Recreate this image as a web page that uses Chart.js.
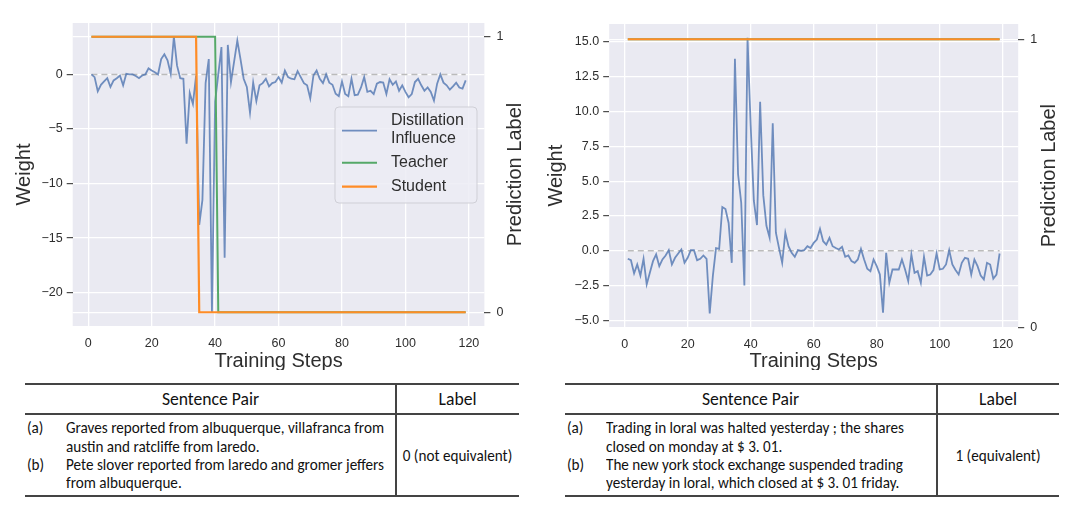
<!DOCTYPE html>
<html><head><meta charset="utf-8">
<script src="https://cdn.jsdelivr.net/npm/chart.js@4.4.0/dist/chart.umd.min.js"></script>
<style>
body{margin:0;background:#fff;width:1080px;height:517px;position:relative;overflow:hidden;font-family:'Liberation Sans',Arial,sans-serif}
canvas{position:absolute;top:0}
.ln{position:absolute;background:#444}
.tt{position:absolute;font-family:Calibri,Carlito,Lato,sans-serif;color:#111;white-space:nowrap;line-height:18px;height:18px;transform-origin:left center}
.ctr{text-align:center;transform-origin:center center}
</style></head><body>
<canvas id="c1" width="540" height="370" style="left:0"></canvas>
<canvas id="c2" width="540" height="370" style="left:540px"></canvas>

<!-- left table -->
<div class="ln" style="left:25px;top:383px;width:494px;height:2px"></div>
<div class="ln" style="left:25px;top:413px;width:494px;height:2px"></div>
<div class="ln" style="left:25px;top:495px;width:494px;height:2px"></div>
<div class="ln" style="left:395px;top:383px;width:2px;height:114px"></div>
<div class="tt ctr hd" style="left:25px;width:371px;top:390px">Sentence Pair</div>
<div class="tt ctr hd" style="left:396px;width:123px;top:390px">Label</div>
<div class="tt" style="left:27px;top:419px">(a)</div>
<div class="tt" style="left:66px;top:419px">Graves reported from albuquerque, villafranca from</div>
<div class="tt" style="left:66px;top:438px">austin and ratcliffe from laredo.</div>
<div class="tt" style="left:27px;top:456px">(b)</div>
<div class="tt" style="left:66px;top:456px">Pete slover reported from laredo and gromer jeffers</div>
<div class="tt" style="left:66px;top:474px">from albuquerque.</div>
<div class="tt ctr" style="left:396px;width:123px;top:447px">0 (not equivalent)</div>

<!-- right table -->
<div class="ln" style="left:565px;top:383px;width:494px;height:2px"></div>
<div class="ln" style="left:565px;top:413px;width:494px;height:2px"></div>
<div class="ln" style="left:565px;top:495px;width:494px;height:2px"></div>
<div class="ln" style="left:936px;top:383px;width:2px;height:114px"></div>
<div class="tt ctr hd" style="left:565px;width:371px;top:390px">Sentence Pair</div>
<div class="tt ctr hd" style="left:937px;width:122px;top:390px">Label</div>
<div class="tt" style="left:567px;top:419px">(a)</div>
<div class="tt" style="left:606px;top:419px">Trading in loral was halted yesterday ; the shares</div>
<div class="tt" style="left:606px;top:438px">closed on monday at $ 3. 01.</div>
<div class="tt" style="left:567px;top:456px">(b)</div>
<div class="tt" style="left:606px;top:456px">The new york stock exchange suspended trading</div>
<div class="tt" style="left:606px;top:474px">yesterday in loral, which closed at $ 3. 01 friday.</div>
<div class="tt ctr" style="left:937px;width:122px;top:447px">1 (equivalent)</div>

<script>
const STEPS = [1,2,3,4,5,6,7,8,9,10,11,12,13,14,15,16,17,18,19,20,21,22,23,24,25,26,27,28,29,30,31,32,33,34,35,36,37,38,39,40,41,42,43,44,45,46,47,48,49,50,51,52,53,54,55,56,57,58,59,60,61,62,63,64,65,66,67,68,69,70,71,72,73,74,75,76,77,78,79,80,81,82,83,84,85,86,87,88,89,90,91,92,93,94,95,96,97,98,99,100,101,102,103,104,105,106,107,108,109,110,111,112,113,114,115,116,117,118,119];

const X_TICKS = [0,20,40,60,80,100,120];
const LEFT_WEIGHT_TICKS = [-20,-15,-10,-5,0];
const RIGHT_WEIGHT_TICKS = [-5,-2.5,0,2.5,5,7.5,10,12.5,15];
const LABEL_TICKS = [0,1];

const LEFT_INFLUENCE = [0,-0.25,-1.55,-0.95,-0.65,-0.35,-1.15,-0.55,-0.35,-0.1,
 -1.0,0.05,0,0,-0.15,-0.35,-0.1,0,0.55,0.35,
 0.2,0,1.4,1.85,1.3,0.05,3.45,0.8,-0.35,-0.4,
 -6.35,-1.7,-2.7,-0.1,-13.8,-11.5,-0.8,1.4,-21.8,-2.5,
 0,2.5,-16.8,2.7,-0.7,1.2,3.1,1.4,-0.4,-1.15,
 -3.5,-0.75,-2.45,-1.0,-0.8,-0.4,-1.1,-0.8,-0.7,-0.25,
 -0.75,0.35,-0.25,-0.4,-0.45,0.3,-0.25,-0.8,-1.0,-2.2,
 -0.1,0.35,-0.4,-0.8,0,-0.76,-0.95,-1.77,-2.0,-0.64,
 -1.8,-2.0,-0.4,-1.9,-1.85,-1.2,-0.25,-1.6,-1.5,-1.8,
 -0.85,-0.7,-0.75,-1.8,-0.45,-0.95,-0.65,-1.5,-1.0,-1.6,
 -2.1,-1.8,-0.7,-0.4,-1.0,-1.5,-1.2,-1.6,-2.4,-0.85,
 0,-0.76,-1.0,-1.4,-1.1,-0.76,-1.2,-1.3,-0.55];

const RIGHT_INFLUENCE = [-0.57,-0.67,-1.62,-0.98,-1.77,-0.57,-2.41,-1.58,-0.74,-0.26,
 -1.1,-0.62,-0.33,0.05,-0.98,-0.5,-0.19,0.1,-0.86,-0.5,
 0.05,0.05,-0.67,-0.57,-0.33,-0.57,-4.49,-1.8,0.2,0.14,
 3.15,3.0,2.0,-0.86,13.8,5.5,3.44,-2.48,15.3,9.0,
 3.6,1.85,10.7,4.0,1.8,0.95,9.16,1.3,0.2,-0.86,
 1.3,0.33,-0.14,-0.43,0.05,0,0.05,0.33,0.2,0.57,
 0.81,1.58,0.69,0.45,0.93,0.33,0.2,0.1,0.29,-0.43,
 -0.33,-0.74,-0.86,-0.62,0.14,-0.62,-1.29,-1.46,-0.62,-1.1,
 -1.7,-4.44,-0.14,-2.29,-1.34,-1.34,-1.34,-0.62,-1.34,-2.17,
 -0.26,-1.58,-1.46,-2.29,-0.43,-1.77,-1.7,-1.38,-0.19,-1.34,
 -1.29,-0.98,0.05,-0.98,-1.38,-1.7,-0.86,-0.5,-0.57,-1.7,
 -0.62,-1.1,-1.77,-2.05,-0.86,-0.98,-2.0,-1.7,-0.19];

const LEFT_TEACHER_STEPS = [1,40,41,119];
const LEFT_TEACHER = [1,1,0,0];
const LEFT_STUDENT_STEPS = [1,34,35,119];
const LEFT_STUDENT = [1,1,0,0];
const RIGHT_TEACHER_STEPS = [1,119];
const RIGHT_TEACHER = [1,1];
const RIGHT_STUDENT_STEPS = [1,119];
const RIGHT_STUDENT = [1,1];
const ZERO_STEPS = [1,119];
const ZERO_LINE = [0,0];

const SERIES_NAMES = ['Distillation Influence','Teacher','Student'];
const LEGEND_LINES = [['Distillation','Influence'],['Teacher'],['Student']];
const X_TITLE = 'Training Steps';
const Y_TITLE = 'Weight';
const Y2_TITLE = 'Prediction Label';

const BLUE = 'rgba(76,114,176,0.78)';
const GREEN = '#55A868';
const ORANGE = '#FF8C26';
const TXT = '#2e2e2e';
const FONT = "'Liberation Sans', Arial, sans-serif";

function pts(xs, ys){ return xs.map((x,i)=>({x:x,y:ys[i]})); }
function fmtMinus(s){ return String(s).replace('-', '\u2212'); }

const bgPlugin = {
  id:'plotBg',
  beforeDraw(chart){
    const a = chart.chartArea, c = chart.ctx;
    c.save(); c.fillStyle = '#EAEAF2'; c.fillRect(a.left, a.top, a.right-a.left, a.bottom-a.top); c.restore();
  }
};

const titlePlugin = {
  id:'axisTitles',
  afterDraw(chart, args, o){
    const a = chart.chartArea, c = chart.ctx;
    c.save();
    c.fillStyle = TXT; c.font = '20px ' + FONT; c.textAlign = 'center'; c.textBaseline = 'middle';
    c.fillText(o.x, (a.left+a.right)/2, o.xY);
    const cy = (a.top+a.bottom)/2;
    c.save(); c.translate(o.yX, cy); c.rotate(-Math.PI/2); c.fillText(o.y, 0, 0); c.restore();
    c.save(); c.translate(o.y2X, cy); c.rotate(-Math.PI/2); c.fillText(o.y2, 0, 0); c.restore();
    c.restore();
  }
};

const legendPlugin = {
  id:'boxLegend',
  afterDraw(chart, args, o){
    if(!o || !o.show) return;
    const c = chart.ctx;
    c.save();
    const x=o.x, y=o.y, w=o.w, h=o.h, r=4;
    c.beginPath();
    c.moveTo(x+r,y); c.lineTo(x+w-r,y); c.quadraticCurveTo(x+w,y,x+w,y+r);
    c.lineTo(x+w,y+h-r); c.quadraticCurveTo(x+w,y+h,x+w-r,y+h);
    c.lineTo(x+r,y+h); c.quadraticCurveTo(x,y+h,x,y+h-r);
    c.lineTo(x,y+r); c.quadraticCurveTo(x,y,x+r,y); c.closePath();
    c.fillStyle = 'rgba(236,236,244,0.85)'; c.fill();
    c.strokeStyle = '#cfcfd6'; c.lineWidth = 1; c.stroke();
    c.font = '16px ' + FONT; c.fillStyle = TXT; c.textAlign='left'; c.textBaseline='middle';
    const items = chart.data.datasets.filter(d=>SERIES_NAMES.includes(d.label));
    items.sort((p,q)=>SERIES_NAMES.indexOf(p.label)-SERIES_NAMES.indexOf(q.label));
    const rows = o.rows;
    items.forEach((d,i)=>{
      const ry = rows[i];
      c.strokeStyle = d.borderColor; c.lineWidth = d.borderWidth;
      c.beginPath(); c.moveTo(o.lx0, ry.line); c.lineTo(o.lx1, ry.line); c.stroke();
      const lines = LEGEND_LINES[SERIES_NAMES.indexOf(d.label)];
      lines.forEach((t,k)=> c.fillText(t, o.tx, ry.text[k]));
    });
    c.restore();
  }
};

function makeChart(id, cfg){
  const datasets = [
    {label:'zero', data:pts(ZERO_STEPS, ZERO_LINE), yAxisID:'y', borderColor:'rgba(180,180,180,0.9)', borderWidth:1.5, borderDash:[6,4], pointRadius:0, order:5},
    {label:SERIES_NAMES[0], data:pts(STEPS, cfg.influence), yAxisID:'y', borderColor:BLUE, borderWidth:1.8, pointRadius:0, order:4, tension:0},
    {label:SERIES_NAMES[1], data:pts(cfg.teacherX, cfg.teacher), yAxisID:'y2', borderColor:GREEN, borderWidth:2, pointRadius:0, order:3},
    {label:SERIES_NAMES[2], data:pts(cfg.studentX, cfg.student), yAxisID:'y2', borderColor:ORANGE, borderWidth:2.2, pointRadius:0, order:2}
  ];
  const tickFont = {family:FONT, size:12.5};
  return new Chart(document.getElementById(id), {
    type:'line',
    data:{datasets},
    plugins:[bgPlugin, titlePlugin, legendPlugin],
    options:{
      responsive:false, animation:false, events:[],
      layout:{padding:{top:cfg.area.t, left:0, right:0, bottom:0}},
      plugins:{legend:{display:false}, tooltip:{enabled:false},
        axisTitles:{x:X_TITLE, y:Y_TITLE, y2:Y2_TITLE, xY:cfg.xTitleY, yX:cfg.yTitleX, y2X:cfg.y2TitleX},
        boxLegend:cfg.legend || {show:false}},
      scales:{
        x:{type:'linear', min:-4.9, max:124.9,
          afterBuildTicks:s=>{ s.ticks = X_TICKS.map(v=>({value:v})); },
          afterFit:s=>{ s.height = 370 - cfg.area.b; },
          grid:{color:'#fff', lineWidth:1.3, drawTicks:false}, border:{display:false},
          ticks:{font:tickFont, color:TXT, padding:10, maxRotation:0, callback:v=>String(v)}},
        y:{type:'linear', position:'left', min:cfg.yMin, max:cfg.yMax,
          afterBuildTicks:s=>{ s.ticks = cfg.yTicks.map(v=>({value:v})); },
          afterFit:s=>{ s.width = cfg.area.l; },
          grid:{color:'#fff', lineWidth:1.3, drawTicks:true, tickLength:6, tickColor:'#3a3a3a', tickWidth:1.1}, border:{display:false},
          ticks:{font:tickFont, color:TXT, padding:4, callback:cfg.yFmt}},
        y2:{type:'linear', position:'right', min:cfg.y2Min, max:cfg.y2Max,
          afterBuildTicks:s=>{ s.ticks = LABEL_TICKS.map(v=>({value:v})); },
          afterFit:s=>{ s.width = 540 - cfg.area.r; },
          grid:{color:'#fff', lineWidth:1.3, drawTicks:true, tickLength:6, tickColor:'#3a3a3a', tickWidth:1.1}, border:{display:false},
          ticks:{font:tickFont, color:TXT, padding:6, callback:v=>String(v)}}
      }
    }
  });
}

makeChart('c1', {
  influence:LEFT_INFLUENCE, teacherX:LEFT_TEACHER_STEPS, teacher:LEFT_TEACHER, studentX:LEFT_STUDENT_STEPS, student:LEFT_STUDENT,
  yMin:-23.06, yMax:4.71, yTicks:LEFT_WEIGHT_TICKS, yFmt:v=>fmtMinus(v),
  y2Min:-0.05, y2Max:1.05,
  area:{l:72.7, t:23, r:484.4, b:326},
  xTitleY:361.5, yTitleX:24, y2TitleX:515.6,
  legend:{show:true, x:335, y:107, w:142, h:96, lx0:342, lx1:377, tx:391,
    rows:[{line:130.7, text:[121,139]},{line:162.7, text:[162.7]},{line:186.7, text:[186.7]}]}
});

makeChart('c2', {
  influence:RIGHT_INFLUENCE, teacherX:RIGHT_TEACHER_STEPS, teacher:RIGHT_TEACHER, studentX:RIGHT_STUDENT_STEPS, student:RIGHT_STUDENT,
  yMin:-5.49, yMax:16.29, yTicks:RIGHT_WEIGHT_TICKS, yFmt:v=>fmtMinus(Number(v).toFixed(1)),
  y2Min:0, y2Max:1.053,
  area:{l:69.2, t:24, r:478.2, b:327.3},
  xTitleY:361.5, yTitleX:16.5, y2TitleX:509
});

// table text: Lato set slightly condensed so line widths match the reference
(function(){
  const fam = 'Calibri, Carlito, Lato, sans-serif';
  const m = document.createElement('canvas').getContext('2d');
  m.font = '100px ' + fam;
  const BODY = 15.5;
  const w = m.measureText('Graves reported from albuquerque, villafranca from').width * BODY / 100;
  const s = 318 / w;
  const hw = m.measureText('Sentence Pair').width;
  const HEAD = Math.min(18, 98 / (s * hw) * 100);
  document.querySelectorAll('.tt').forEach(e=>{
    e.style.fontSize = (e.classList.contains('hd') ? HEAD : BODY).toFixed(2) + 'px';
    e.style.transform = 'scaleX(' + s.toFixed(4) + ')';
  });
})();
</script>
</body></html>
